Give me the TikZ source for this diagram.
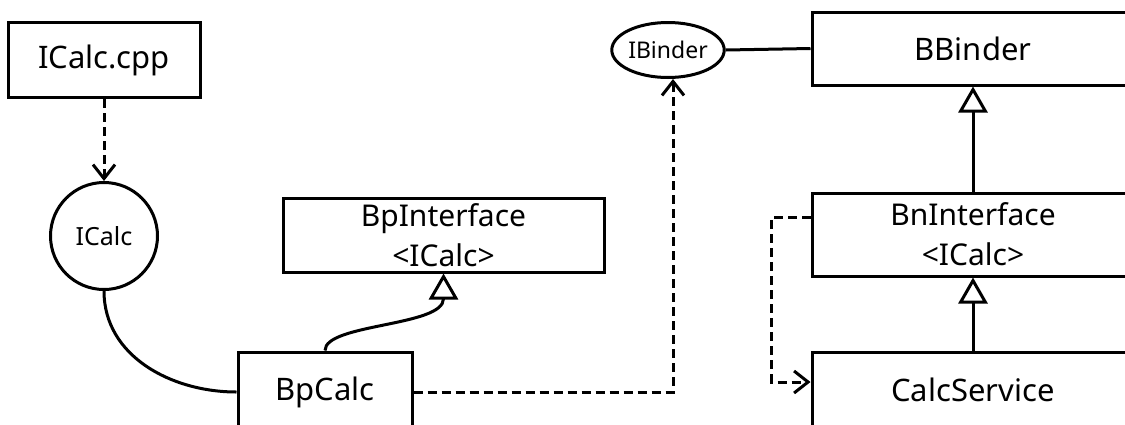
\documentclass[tikz,border=0pt]{standalone}
\usepackage{fontspec}
\setmainfont{Noto Sans}
\usetikzlibrary{arrows.meta,shapes.geometric}
\begin{document}
\begin{tikzpicture}[x=1pt,y=-1pt,
  box/.style={draw,line width=3pt,rectangle,inner sep=0pt,align=center,font=\fontsize{31}{40}\selectfont},
  twoline/.style={box,font=\fontsize{30}{40}\selectfont},
  conn/.style={line width=3pt},
  dep/.style={conn,dash pattern=on 9pt off 5pt,-{Straight Barb[length=14pt,width=22pt,line width=3pt]}},
  inh/.style={conn,-{Triangle[open,length=26pt,width=29pt,line width=3pt,fill=white]}}]
\useasboundingbox (0,0) rectangle (1125,424);
\clip (0,0) rectangle (1125,424);
\node[box,minimum width=192pt,minimum height=75pt] (icalccpp) at (104,60) {ICalc.cpp};
\node[draw,line width=3pt,circle,minimum size=107pt,inner sep=0pt,font=\fontsize{25}{30}\selectfont] (icalc) at (104,236) {ICalc};
\node[twoline,minimum width=321pt,minimum height=74pt] (bpinterface) at (443.5,235) {BpInterface\\{<}ICalc{>}};
\node[box,minimum width=174pt,minimum height=80pt] (bpcalc) at (325,392) {BpCalc};
\node[draw,line width=3pt,ellipse,minimum width=110pt,minimum height=55pt,inner sep=0pt,font=\fontsize{23}{28}\selectfont] (ibinder) at (668,50) {IBinder};
\node[box,minimum width=322pt,minimum height=73pt] (bbinder) at (973,48.5) {BBinder};
\node[twoline,minimum width=322pt,minimum height=83pt] (bninterface) at (973,234.5) {BnInterface\\{<}ICalc{>}};
\node[box,minimum width=322pt,minimum height=76pt] (calcservice) at (973,390) {CalcService};

\draw[dep] (icalccpp.south) -- (icalc.north);
\draw[conn] (icalc.south) to[out=-90,in=180] (bpcalc.west);
\draw[inh] (bpcalc.north) .. controls ([yshift=27pt]bpcalc.north) and ([yshift=-53pt]bpinterface.south) .. (bpinterface.south);
\draw[dep] (bpcalc.east) -| ([xshift=5pt]ibinder.south);
\draw[conn] (ibinder.east) -- (bbinder.west);
\draw[inh] (bninterface.north) -- (bbinder.south);
\draw[inh] (calcservice.north) -- (bninterface.south);
\draw[dep] ([yshift=17.5pt]bninterface.west) -- ++(-39,0) |- ([yshift=8pt]calcservice.west);
\end{tikzpicture}
\end{document}
